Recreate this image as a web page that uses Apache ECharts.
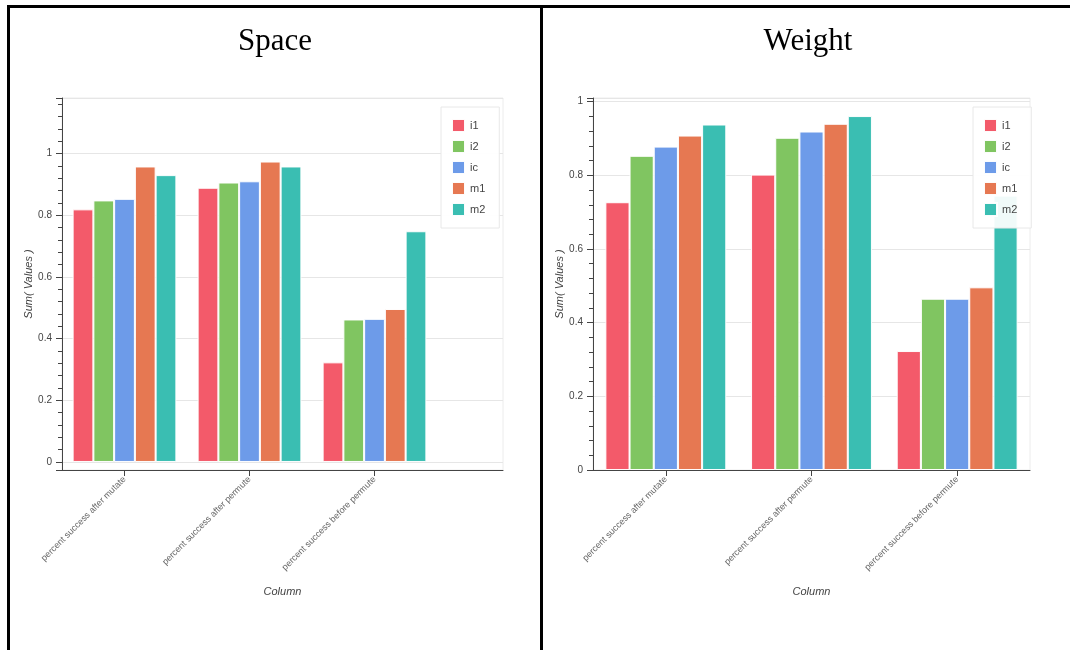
<!DOCTYPE html>
<html>
<head>
<meta charset="utf-8">
<title>Space / Weight</title>
<script src="https://cdn.jsdelivr.net/npm/echarts@6/dist/echarts.min.js"></script>
<style>
  html, body { margin: 0; padding: 0; background: #ffffff; }
  #chart { width: 1070px; height: 650px; }
</style>
</head>
<body>
<div id="chart"></div>
<script>
// Categories on the x axis of both panels
const categories = [
  'percent success after mutate',
  'percent success after permute',
  'percent success before permute'
];
const seriesNames = ['i1', 'i2', 'ic', 'm1', 'm2'];
const yTickLabels = ['0', '0.2', '0.4', '0.6', '0.8', '1'];

// "Space" panel: summed values per series
const spaceI1 = [0.819, 0.889, 0.323];
const spaceI2 = [0.848, 0.906, 0.462];
const spaceIc = [0.853, 0.910, 0.464];
const spaceM1 = [0.958, 0.974, 0.496];
const spaceM2 = [0.930, 0.958, 0.748];

// "Weight" panel: summed values per series
const weightI1 = [0.727, 0.802, 0.323];
const weightI2 = [0.853, 0.902, 0.465];
const weightIc = [0.878, 0.919, 0.465];
const weightM1 = [0.908, 0.940, 0.496];
const weightM2 = [0.938, 0.961, 0.745];

const spaceData = [spaceI1, spaceI2, spaceIc, spaceM1, spaceM2];
const weightData = [weightI1, weightI2, weightIc, weightM1, weightM2];
const palette = ['#f35565', '#7cc35c', '#6898e8', '#e5744c', '#34bcb0'];

const sans = '"Liberation Sans", Arial, Helvetica, sans-serif';
const axisColor = '#444';
const gridLineColor = '#e6e6e6';

function fmtTick(v) {
  const s = (Math.round(v * 10) / 10).toString();
  return yTickLabels.indexOf(s) >= 0 ? s : '';
}

const valueAxisCommon = {
  type: 'value',
  axisLine: { show: true, lineStyle: { color: axisColor, width: 1 } },
  axisTick: { show: true, length: 6, lineStyle: { color: axisColor } },
  minorTick: { show: true, splitNumber: 5, length: 4, lineStyle: { color: axisColor } },
  axisLabel: { show: true, margin: 10, fontSize: 10, color: axisColor, fontFamily: sans,
               showMinLabel: false, showMaxLabel: false, formatter: fmtTick },
  splitLine: { show: true, lineStyle: { color: gridLineColor, width: 1 } },
  name: 'Sum( Values )',
  nameLocation: 'middle',
  nameGap: 24,
  nameTextStyle: { fontStyle: 'italic', fontSize: 11, color: axisColor, fontFamily: sans }
};

const categoryLabel = {
  rotate: 45, fontSize: 9, color: '#666', margin: 8, fontFamily: sans, interval: 0
};

function makeSeries(data, xIdx, yIdx) {
  return data.map((vals, i) => ({
    name: seriesNames[i],
    type: 'bar',
    xAxisIndex: xIdx,
    yAxisIndex: yIdx,
    data: vals,
    barGap: '0%',
    barCategoryGap: '17%',
    itemStyle: { color: palette[i], borderColor: '#ffffff', borderWidth: 1, opacity: 0.97 },
    emphasis: { disabled: true }
  }));
}

const legendCommon = {
  orient: 'vertical',
  data: seriesNames,
  icon: 'rect',
  itemWidth: 13,
  itemHeight: 13,
  itemGap: 6,
  padding: [11, 14, 11, 10],
  backgroundColor: 'rgba(255,255,255,0.93)',
  borderColor: '#e8e8e8',
  borderWidth: 1,
  textStyle: { fontSize: 11, color: axisColor, fontFamily: sans },
  selectedMode: false
};

const columnName = {
  name: 'Column', nameLocation: 'middle', nameGap: 116,
  nameTextStyle: { fontStyle: 'italic', fontSize: 11, color: axisColor, fontFamily: sans }
};

const chart = echarts.init(document.getElementById('chart'), null, { renderer: 'canvas' });

chart.setOption({
  animation: false,
  grid: [
    // 0: left frame (full plot area, axis extends past the last category)
    { left: 62, top: 98, width: 441, height: 372, show: true, borderColor: '#ececec', borderWidth: 1, backgroundColor: 'transparent' },
    // 1: left bars (three category bands)
    { left: 62, top: 98, width: 375, height: 372 },
    // 2: right panel
    { left: 593, top: 98, width: 437, height: 372, show: true, borderColor: '#ececec', borderWidth: 1, backgroundColor: 'transparent' }
  ],
  xAxis: [
    Object.assign({
      gridIndex: 0, type: 'value', min: 0, max: 1,
      axisLine: { show: true, onZero: false, lineStyle: { color: axisColor } },
      axisTick: { show: false }, axisLabel: { show: false }, splitLine: { show: false }
    }, columnName),
    {
      gridIndex: 1, type: 'category', data: categories,
      axisLine: { show: false, onZero: false },
      axisTick: { show: true, alignWithLabel: true, length: 6, lineStyle: { color: axisColor } },
      axisLabel: categoryLabel,
      splitLine: { show: false }
    },
    Object.assign({
      gridIndex: 2, type: 'category', data: categories,
      axisLine: { show: true, onZero: false, lineStyle: { color: axisColor } },
      axisTick: { show: true, alignWithLabel: true, length: 6, lineStyle: { color: axisColor } },
      axisLabel: categoryLabel,
      splitLine: { show: false }
    }, columnName)
  ],
  yAxis: [
    Object.assign({}, valueAxisCommon, { gridIndex: 0, min: -0.026, max: 1.18, splitNumber: 6 }),
    { gridIndex: 1, type: 'value', min: -0.026, max: 1.18, show: false, splitLine: { show: false } },
    Object.assign({}, valueAxisCommon, {
      gridIndex: 2, min: 0, max: 1.01, splitNumber: 5, nameGap: 23,
      axisLabel: Object.assign({}, valueAxisCommon.axisLabel, { showMinLabel: true })
    })
  ],
  legend: [
    Object.assign({}, legendCommon, { left: 441, top: 107 }),
    Object.assign({}, legendCommon, { left: 973, top: 107 })
  ],
  series: makeSeries(spaceData, 1, 1).concat(makeSeries(weightData, 2, 2)),
  graphic: [
    { type: 'rect', shape: { x: 7, y: 5, width: 1063, height: 3 }, style: { fill: '#000' }, silent: true },
    { type: 'rect', shape: { x: 7, y: 5, width: 3, height: 645 }, style: { fill: '#000' }, silent: true },
    { type: 'rect', shape: { x: 540, y: 5, width: 3, height: 645 }, style: { fill: '#000' }, silent: true },
    { type: 'text', x: 275, y: 42, style: { text: 'Space', font: '31px "Liberation Serif", "Times New Roman", serif', fill: '#000', textAlign: 'center', textVerticalAlign: 'middle' }, silent: true },
    { type: 'text', x: 808, y: 42, style: { text: 'Weight', font: '31px "Liberation Serif", "Times New Roman", serif', fill: '#000', textAlign: 'center', textVerticalAlign: 'middle' }, silent: true }
  ]
});
</script>
</body>
</html>
